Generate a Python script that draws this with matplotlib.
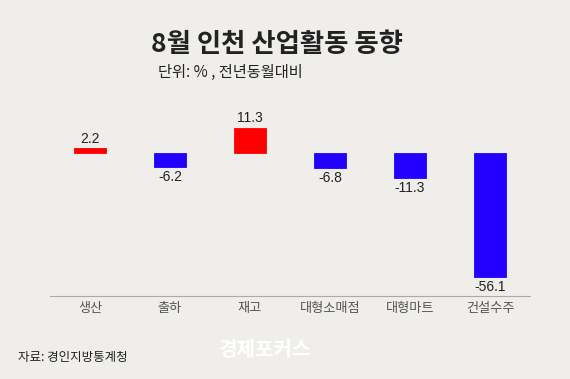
import matplotlib.pyplot as plt

plt.rcParams['font.family'] = ['Noto Sans CJK KR', 'DejaVu Sans']

categories = ['생산', '출하', '재고', '대형소매점', '대형마트', '건설수주']
values = [2.2, -6.2, 11.3, -6.8, -11.3, -56.1]

BG = '#efeeeb'
colors = ['#ff0000' if v > 0 else '#2200ff' for v in values]

fig = plt.figure(figsize=(5.7, 3.79), dpi=100, facecolor=BG)
ax = fig.add_axes([50/570, 1-296/379, 480/570, 196/379])
ax.set_facecolor(BG)

x = range(len(categories))
ax.bar(x, values, width=0.4, color=colors, edgecolor=colors, linewidth=0.6)

# value labels above / below bars
for i, v in enumerate(values):
    if v > 0:
        ax.text(i, v + 1.2, f'{v}', ha='center', va='bottom', fontsize=10,
                color='#222', family='Liberation Sans')
    else:
        ax.text(i, v - 1.2, f'{v}', ha='center', va='top', fontsize=10,
                color='#222', family='Liberation Sans')

ax.set_xlim(-0.5, 5.5)
ax.set_ylim(-64.5, 24)
ax.set_yticks([])
ax.set_xticks(list(x))
ax.set_xticklabels(categories, fontsize=9.5, color='#555')
ax.tick_params(axis='x', length=0, pad=4)
for s in ['top', 'right', 'left']:
    ax.spines[s].set_visible(False)
ax.spines['bottom'].set_color('#aaa')
ax.spines['bottom'].set_linewidth(0.8)

fig.text(277/570, 1-45/379, '8월 인천 산업활동 동향', ha='center', va='center',
         fontsize=19, fontweight='bold', color='#222')
fig.text(158/570, 1-72/379, '단위: % , 전년동월대비', ha='left', va='center',
         fontsize=11, color='#222')
fig.text(18/570, 1-357/379, '자료: 경인지방통계청', ha='left', va='center',
         fontsize=9, color='#222')
fig.text(218/570, 1-350/379, '경제포커스', ha='left', va='center',
         fontsize=14.5, fontweight='bold', color='white')

fig.savefig('out.png', dpi=100, facecolor=BG)
